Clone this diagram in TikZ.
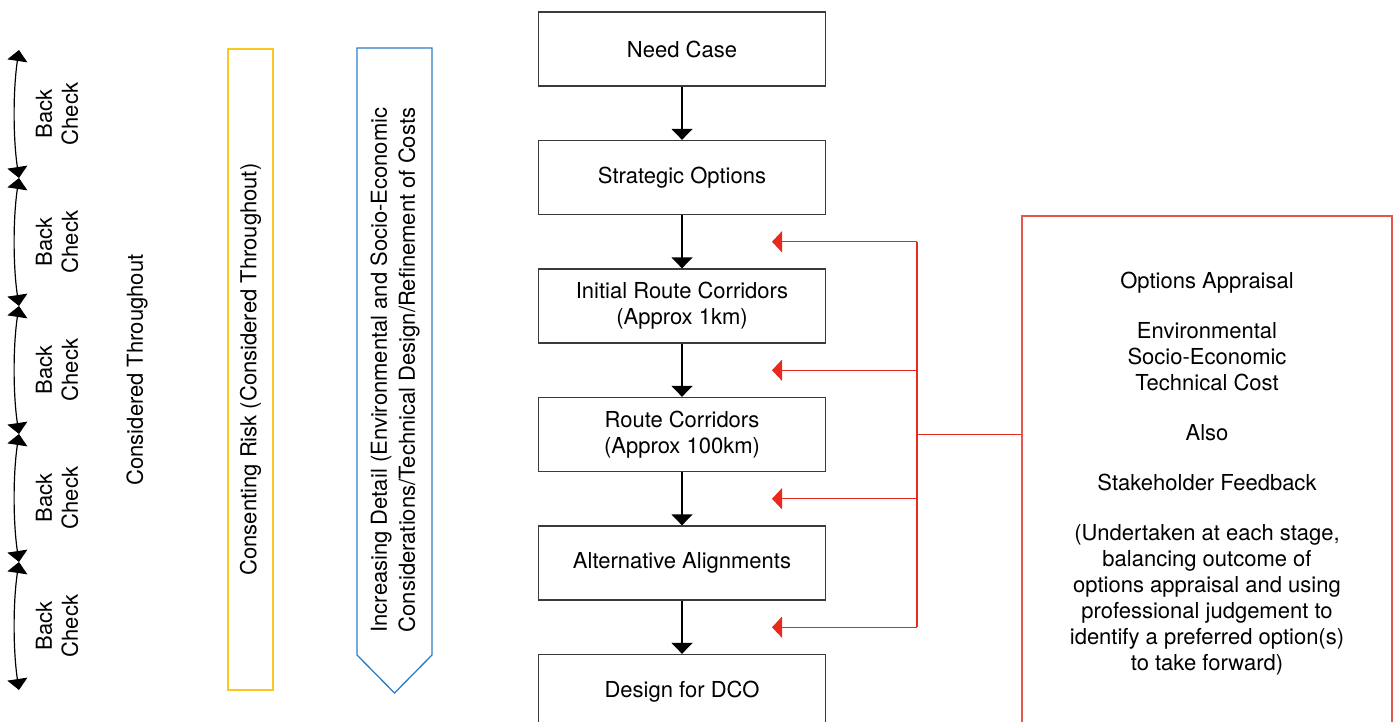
\documentclass[tikz,border=0pt]{standalone}
\usepackage{fontspec}
\setmainfont{TeX Gyre Heros}
\usetikzlibrary{arrows.meta, positioning, calc}
\definecolor{stageline}{HTML}{3A3A3A}
\definecolor{fbred}{HTML}{E62A1E}
\definecolor{boxred}{HTML}{E8554C}
\definecolor{riskyellow}{HTML}{F9C623}
\definecolor{detailblue}{HTML}{2B7EC6}

\begin{document}
\begin{tikzpicture}[
  x=0.5pt, y=-0.5pt,
  node distance=26.6pt,
  every node/.style={font=\fontsize{11}{13}\selectfont},
  stage/.style={
    rectangle, draw=stageline, line width=0.65pt,
    minimum width=143.5pt, minimum height=37pt,
    align=center, inner sep=2pt
  },
  optbox/.style={
    rectangle, draw=boxred, line width=0.65pt,
    minimum width=185pt, minimum height=258pt,
    align=center, inner sep=2pt
  },
  riskbar/.style={
    rectangle, draw=riskyellow, line width=0.65pt, rotate=90,
    minimum width=320.5pt, minimum height=22.5pt
  },
  vlabel/.style={rotate=90, align=center},
  flow/.style={-{Triangle[length=5.5pt,width=10.5pt]}, draw=black, line width=0.65pt},
  fbarr/.style={-{Triangle[length=5pt,width=10.5pt]}, draw=fbred, line width=0.65pt},
  fbline/.style={draw=fbred, line width=0.65pt},
  check/.style={{Triangle[length=5.5pt,width=10pt]}-{Triangle[length=5.5pt,width=10pt]}, line width=0.6pt}
]
\useasboundingbox (0,0) rectangle (1397,722);
\clip (0,0) rectangle (1397,722);

\node[stage] (need) at (682,49) {Need Case};
\node[stage, below=of need]  (strat) {Strategic Options};
\node[stage, below=of strat] (irc)   {Initial Route Corridors\\(Approx 1km)};
\node[stage, below=of irc]   (rc)    {Route Corridors\\(Approx 100km)};
\node[stage, below=of rc]    (alt)   {Alternative Alignments};
\node[stage, below=of alt]   (dco)   {Design for DCO};

\foreach \a/\b in {need/strat, strat/irc, irc/rc, rc/alt, alt/dco}
  \draw[flow] (\a) -- (\b);

\node[optbox] (opts) at (1207,474) {Options Appraisal\\[12pt]
  Environmental\\Socio-Economic\\Technical Cost\\[12pt]
  Also\\[12pt]
  Stakeholder Feedback\\[12pt]
  (Undertaken at each stage,\\balancing outcome of\\options appraisal and using\\
  professional judgement to\\identify a preferred option(s)\\to take forward)};

\foreach \a/\b [count=\i] in {strat/irc, irc/rc, rc/alt, alt/dco}
  \coordinate (fb\i) at ($(\a.south)!.5!(\b.north)+(90,0)$);
\coordinate (trunk) at (917,0);
\coordinate (join) at ($(fb2)!.5!(fb3)$);
\draw[fbline] (fb1 -| trunk) -- (fb4 -| trunk);
\foreach \i in {1,...,4}
  \draw[fbarr] (fb\i -| trunk) -- (fb\i);
\draw[fbline] (opts.west |- join) -- (join -| trunk);

\draw[detailblue, line width=0.65pt]
  (357,48) -- (432,48) -- (432,655) -- (394.5,693) -- (357,655) -- cycle;
\node[vlabel] (detail) at (395,370)
  {Increasing Detail (Environmental and Socio-Economic\\[1pt]Considerations/Technical Design/Refinement of Costs};

\node[riskbar] (risk) at (250.5,369.5) {Consenting Risk (Considered Throughout)};
\node[vlabel] (throughout) at (137,370) {Considered Throughout};

\foreach \i in {0,...,5}
  \coordinate (bc\i) at (19,50+128*\i);
\foreach \i/\j in {0/1, 1/2, 2/3, 3/4, 4/5} {
  \draw[check] (bc\i) .. controls ($(bc\i)+(-6,40)$) and ($(bc\j)+(-6,-40)$) .. (bc\j);
  \node[vlabel] (back\i) at ($(bc\i)!.5!(bc\j)+(38,0)$) {Back\\Check};
}
\end{tikzpicture}
\end{document}
